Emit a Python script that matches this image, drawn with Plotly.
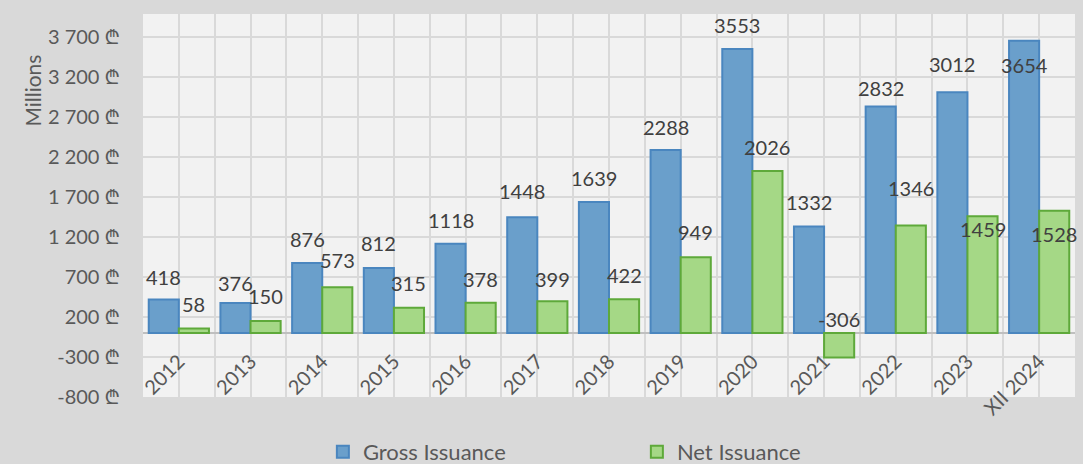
import plotly.graph_objects as go

categories = ["2012", "2013", "2014", "2015", "2016", "2017", "2018", "2019",
              "2020", "2021", "2022", "2023", "XII 2024"]
gross = [418, 376, 876, 812, 1118, 1448, 1639, 2288, 3553, 1332, 2832, 3012, 3654]
net = [58, 150, 573, 315, 378, 399, 422, 949, 2026, -306, 1346, 1459, 1528]
y_ticks = [-800, -300, 200, 700, 1200, 1700, 2200, 2700, 3200, 3700]

# label vertical offsets in pixels (style)
gross_shift = [23, 20, 24, 25, 24, 26, 24, 23, 24, 25, 19, 28, -24]
net_shift = [24, 25, 27, 25, 24, 22, 24, 25, 24, 39, 37, -13, -23]

y_min, y_max = -800, 3990
bar_w = 0.42
x_pos = list(range(len(categories)))

FONT = "Lato, 'Noto Sans', sans-serif"

fig = go.Figure()
fig.add_trace(go.Bar(
    x=x_pos, y=gross, name="Gross Issuance", width=bar_w, offset=-bar_w,
    marker=dict(color="#6a9fcb", line=dict(color="#4a86bf", width=2)),
))
fig.add_trace(go.Bar(
    x=x_pos, y=net, name="Net Issuance", width=bar_w, offset=0,
    marker=dict(color="#a5d886", line=dict(color="#5ea93a", width=2)),
))

annotations = []
for i, (g, s) in enumerate(zip(gross, gross_shift)):
    annotations.append(dict(x=i - bar_w / 2, y=g, text=str(g), showarrow=False,
                            xref="x", yref="y", xanchor="center", yanchor="middle", yshift=s,
                            font=dict(size=20, color="#404040", family=FONT)))
for i, (n, s) in enumerate(zip(net, net_shift)):
    annotations.append(dict(x=i + bar_w / 2, y=n, text=str(n), showarrow=False,
                            xref="x", yref="y", xanchor="center", yanchor="middle", yshift=s,
                            font=dict(size=20, color="#404040", family=FONT)))
annotations.append(dict(x=-0.118, y=0.80, xref="paper", yref="paper", text="Millions",
                        textangle=-90, showarrow=False, xanchor="center", yanchor="middle",
                        font=dict(size=21, color="#595959", family=FONT)))

tick_text = [f"{v:,}".replace(",", " ") + " ₾" for v in y_ticks]

fig.update_layout(
    width=1083, height=464,
    margin=dict(l=143, r=8, t=14, b=67, autoexpand=False),
    paper_bgcolor="#d9d9d9", plot_bgcolor="#f2f2f2",
    barmode="overlay",
    font=dict(family=FONT, size=20, color="#595959"),
    showlegend=True,
    legend=dict(orientation="h", x=0.193, xanchor="left",
                yref="container", y=0.026, yanchor="middle",
                entrywidth=269, entrywidthmode="pixels",
                font=dict(size=22, color="#595959", family=FONT),
                bgcolor="rgba(0,0,0,0)"),
    annotations=annotations,
    xaxis=dict(
        range=[-0.5, len(categories) - 0.5], tickmode="array", tickvals=x_pos,
        ticktext=categories, tickangle=-45, showgrid=True, gridcolor="#d9d9d9",
        gridwidth=2, zeroline=False, showline=False, ticks="",
        anchor="free", position=(0 - y_min) / (y_max - y_min),
        ticklabelstandoff=12, automargin=False,
        minor=dict(tickmode="linear", tick0=0.5, dtick=1, showgrid=True,
                   gridcolor="#d9d9d9", gridwidth=2),
        tickfont=dict(size=20, color="#595959", family=FONT),
    ),
    yaxis=dict(
        range=[y_min, y_max], tickmode="array", tickvals=y_ticks, ticktext=tick_text,
        showgrid=True, gridcolor="#d9d9d9", gridwidth=2,
        zeroline=True, zerolinecolor="#bfbfbf", zerolinewidth=2,
        ticks="", ticklabelstandoff=22, automargin=False,
        tickfont=dict(size=20, color="#595959", family=FONT),
    ),
)

fig.write_html("out.html", config={"displayModeBar": False},
               post_script="document.body.style.margin='0px';")
